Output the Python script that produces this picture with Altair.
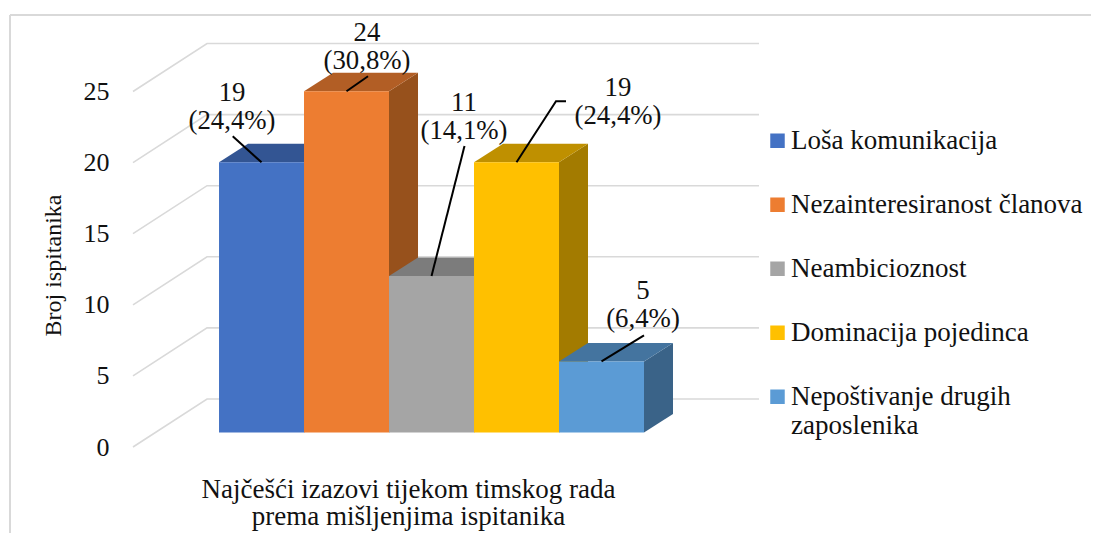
import altair as alt
import pandas as pd

categories = ["Loša komunikacija", "Nezainteresiranost članova", "Neambicioznost",
              "Dominacija pojedinca", "Nepoštivanje drugih zaposlenika"]
values = [19, 24, 11, 19, 5]
percents = ["24,4%", "30,8%", "14,1%", "24,4%", "6,4%"]
front_colors = ["#4472C4", "#ED7D31", "#A5A5A5", "#FFC000", "#5B9BD5"]
top_colors = ["#335593", "#B25E25", "#7C7C7C", "#BF9000", "#44749F"]
side_colors = ["#2E4F8A", "#97511C", "#6A6A6A", "#A37B00", "#3A6388"]
y_ticks = [0, 5, 10, 15, 20, 25]

# label and leader offsets from each bar's top centre, in pixels
label_dx = [-29.5, 20.5, 32.5, 101.5, 41.5]
label_dy = [69, 58, 173, 74, 70]
leader_dx = [[-28.8], [21.5], [33], [39.5, 49.5], [42.5]]
leader_dy = [[26], [15], [130], [61, 61], [26]]

FONT = "Liberation Serif"
GRID = "#D9D9D9"
INK = "#111111"
PX_X, PX_Y = 85.0, 14.22          # pixels per bar width / per respondent
DEPTH_X, DEPTH_Y = 29 / PX_X, 18.5 / PX_Y   # bar depth
WALL_X, WALL_Y = 0.871, 48 / PX_Y           # side wall depth
FLOOR = 14.5 / PX_Y               # bars stand in front of the axis line
X0, X1 = -1.012, 6.353

xs = alt.Scale(domain=[X0, X1], nice=False, zero=False)
ys = alt.Scale(domain=[0, 433 / PX_Y], nice=False, zero=False)

x_axis = alt.Axis(title=["Najčešći izazovi tijekom timskog rada", "prema mišljenjima ispitanika"],
                  labels=False, ticks=False, domain=False, grid=False,
                  titleFont=FONT, titleFontSize=27, titleFontWeight="normal", titleColor=INK,
                  titleLineHeight=27.5, titleX=275, titleY=29, titleBaseline="top", titleAnchor="middle")
y_axis = alt.Axis(title="Broj ispitanika", values=y_ticks, labels=True, ticks=False, domain=False, grid=False,
                  labelFont=FONT, labelFontSize=26, labelColor=INK, labelPadding=24,
                  titleFont=FONT, titleFontSize=24, titleFontWeight="normal", titleColor=INK,
                  titleX=-68, titleY=251)

bars = pd.DataFrame({
    "cat": categories, "left": range(5), "right": [i + 1 for i in range(5)],
    "floor": FLOOR, "top": [v + FLOOR for v in values],
})
sides, tops, labels, leaders = [], [], [], []
for i, (c, v) in enumerate(zip(categories, values)):
    t = v + FLOOR
    for k in (0, 1):
        sides.append({"cat": c, "x": i + 1 + k * DEPTH_X, "y": FLOOR + k * DEPTH_Y,
                      "y2": t + k * DEPTH_Y, "fill": side_colors[i]})
        tops.append({"cat": c, "x": i + k * DEPTH_X, "x2": i + 1 + k * DEPTH_X,
                     "y": t + k * DEPTH_Y, "fill": top_colors[i]})
    labels.append({"x": i + .5 + label_dx[i] / PX_X, "y": t + label_dy[i] / PX_Y,
                   "text": f"{v}\n({percents[i]})"})
    leaders.append({"id": i, "ord": 0, "x": i + .5, "y": t})
    for j, (a, b) in enumerate(zip(leader_dx[i], leader_dy[i])):
        leaders.append({"id": i, "ord": j + 1, "x": i + .5 + a / PX_X, "y": t + b / PX_Y})
grid = []
for g in y_ticks:
    grid.append({"tick": g, "ord": 0, "x": X0, "y": g})
    grid.append({"tick": g, "ord": 1, "x": X0 + WALL_X, "y": g + WALL_Y})
    grid.append({"tick": g, "ord": 2, "x": X1, "y": g + WALL_Y})

X = lambda: alt.X("x:Q", scale=xs, axis=x_axis)
Y = lambda: alt.Y("y:Q", scale=ys, axis=y_axis)

grid_layer = alt.Chart(pd.DataFrame(grid)).mark_line(color=GRID, strokeWidth=1.6).encode(
    x=X(), y=Y(), detail="tick:N", order="ord:Q",
)
side_layer = alt.Chart(pd.DataFrame(sides)).mark_area(orient="vertical").encode(
    x=X(), y=Y(), y2="y2:Q",
    fill=alt.Fill("fill:N", scale=None), detail="cat:N",
)
top_layer = alt.Chart(pd.DataFrame(tops)).mark_area(orient="horizontal").encode(
    x=X(), x2="x2:Q", y=Y(),
    fill=alt.Fill("fill:N", scale=None), detail="cat:N",
)
front_layer = alt.Chart(bars).mark_rect().encode(
    x=alt.X("left:Q", scale=xs, axis=x_axis), x2="right:Q",
    y=alt.Y("floor:Q", scale=ys, axis=y_axis), y2="top:Q",
    color=alt.Color("cat:N", scale=alt.Scale(domain=categories, range=front_colors), sort=categories,
                    legend=alt.Legend(
                        title=None, orient="none", legendX=631, legendY=95, padding=0,
                        symbolType="square", symbolSize=210, symbolStrokeWidth=0, clipHeight=63.7,
                        rowPadding=0, labelOffset=0, labelLimit=400,
                        labelFont=FONT, labelFontSize=27, labelColor=INK,
                        labelExpr="datum.label == 'Nepoštivanje drugih zaposlenika' ? ['Nepoštivanje drugih', 'zaposlenika'] : datum.label",
                    )),
)
leader_layer = alt.Chart(pd.DataFrame(leaders)).mark_line(color="#000000", strokeWidth=2).encode(
    x=X(), y=Y(), detail="id:N", order="ord:Q",
)
label_layer = alt.Chart(pd.DataFrame(labels)).mark_text(
    font=FONT, fontSize=26.8, color=INK, lineBreak="\n", lineHeight=28, baseline="middle", align="center",
).encode(x=X(), y=Y(), text="text:N")
frame_top = alt.Chart(pd.DataFrame({"a": [0]})).mark_rule(color=GRID, strokeWidth=2).encode(
    x=alt.value(-123), x2=alt.value(958), y=alt.value(1))
frame_left = alt.Chart(pd.DataFrame({"a": [0]})).mark_rule(color=GRID, strokeWidth=2).encode(
    x=alt.value(-123), y=alt.value(1), y2=alt.value(519))

chart = alt.layer(
    frame_top, frame_left, grid_layer, side_layer, top_layer, front_layer, leader_layer, label_layer
).properties(
    width=626, height=433, background="white",
    autosize=alt.AutoSizeParams(type="none"),
    padding={"left": 125, "top": 6, "right": 332, "bottom": 94},
).configure_view(stroke=None)

chart.save("out.html", embed_options={"renderer": "svg", "actions": False})
